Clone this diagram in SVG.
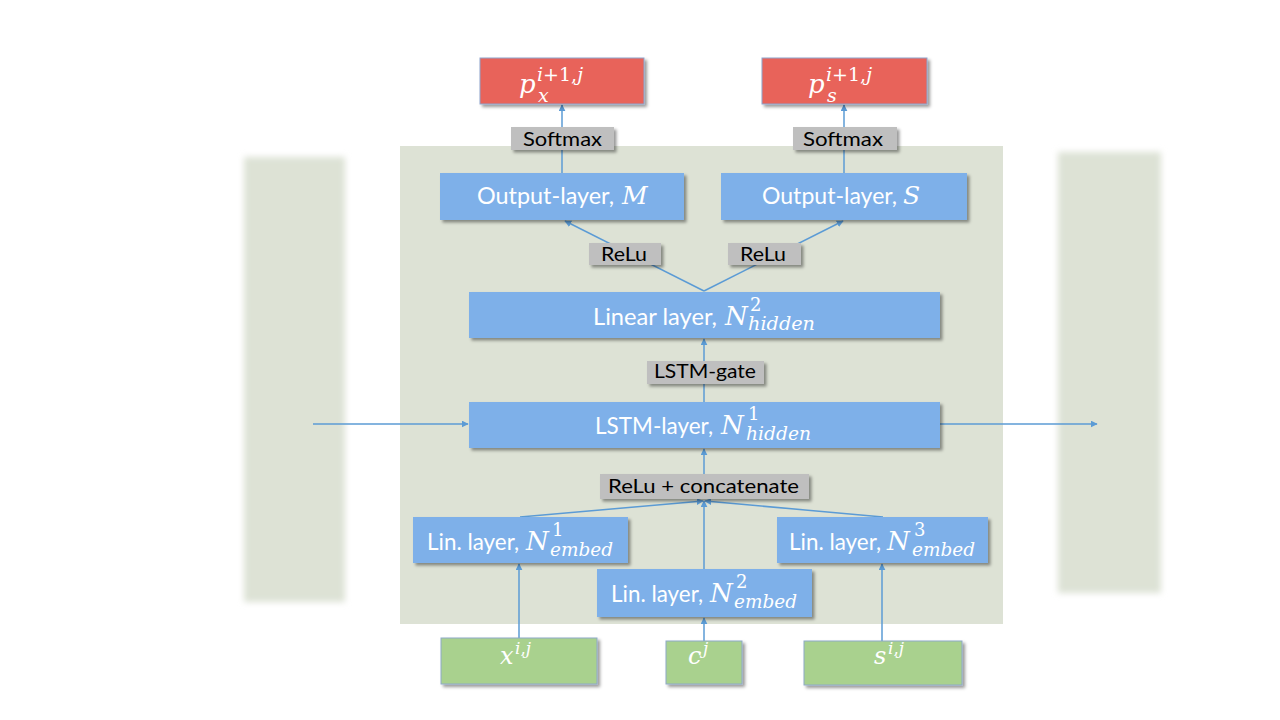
<svg xmlns="http://www.w3.org/2000/svg" width="1280" height="720" viewBox="0 0 1280 720">
<defs>
<style>
.panel{fill:#DDE2D5}
.blue{fill:#7EB0E9}
.red{fill:#E8645A;stroke:#8EA3CB;stroke-width:1}
.green{fill:#A9D18E;stroke:#8EA9C8;stroke-width:1}
.gray{fill:#BFBFBF}
.lbl{font-family:Lato,"Open Sans","Liberation Sans",sans-serif;font-size:24px;fill:#FFFFFF}
.glbl{font-family:Lato,"Open Sans","Liberation Sans",sans-serif;font-size:20px;fill:#000000}
.m{font-family:"DejaVu Serif","Liberation Serif",serif;font-style:italic;fill:#FFFFFF}
.up{font-style:normal}
.conn{stroke:#5B9BD5;stroke-width:1.5;fill:none;marker-end:url(#arr)}
.sh{filter:url(#shadow)}
</style>
<marker id="arr" viewBox="0 0 10 10" refX="9" refY="5" markerWidth="7" markerHeight="7" markerUnits="userSpaceOnUse" orient="auto">
<path d="M0,0 L10,5 L0,10 z" fill="#5B9BD5"/>
</marker>
<filter id="shadow" x="-10%" y="-20%" width="130%" height="160%">
<feDropShadow dx="2.5" dy="2.5" stdDeviation="1.5" flood-color="#000" flood-opacity="0.4"/>
</filter>
<filter id="blur" x="-20%" y="-10%" width="140%" height="120%">
<feGaussianBlur stdDeviation="3"/>
</filter>
</defs>
<rect width="1280" height="720" fill="#FFFFFF"/>
<g id="side-panels">
<rect x="244" y="157" width="101" height="445" class="panel" filter="url(#blur)"/>
<rect x="1058" y="152" width="103" height="441" class="panel" filter="url(#blur)"/>
</g>
<g id="main-panel">
<rect x="400" y="146" width="603" height="478" class="panel"/>
</g>
<g id="connectors">
<line x1="562" y1="173" x2="562" y2="105" class="conn"/>
<line x1="844" y1="173" x2="844" y2="105" class="conn"/>
<line x1="704" y1="291" x2="565" y2="221" class="conn"/>
<line x1="704" y1="291" x2="843" y2="221" class="conn"/>
<line x1="704" y1="402" x2="704" y2="339" class="conn"/>
<line x1="704" y1="474" x2="704" y2="449" class="conn"/>
<line x1="520" y1="517" x2="703" y2="501" class="conn"/>
<line x1="704" y1="569" x2="704" y2="501" class="conn"/>
<line x1="883" y1="517" x2="705" y2="501" class="conn"/>
<line x1="519" y1="638" x2="519" y2="564" class="conn"/>
<line x1="704" y1="641" x2="704" y2="618" class="conn"/>
<line x1="882" y1="641" x2="882" y2="564" class="conn"/>
<line x1="313" y1="424" x2="468" y2="424" class="conn"/>
<line x1="940" y1="424" x2="1097" y2="424" class="conn"/>
</g>
<g id="out-px">
<rect x="480" y="58" width="164" height="46" class="red sh"/>
<text x="519" y="93" class="m" font-size="26">p</text>
<text x="537" y="81" class="m" font-size="19">i<tspan class="up">+1,</tspan>j</text>
<text x="538" y="102" class="m" font-size="19">x</text>
</g>
<g id="out-ps">
<rect x="762" y="58" width="165" height="46" class="red sh"/>
<text x="808" y="93" class="m" font-size="26">p</text>
<text x="826" y="81" class="m" font-size="19">i<tspan class="up">+1,</tspan>j</text>
<text x="827" y="102" class="m" font-size="19">s</text>
</g>
<g id="softmax-left">
<rect x="511" y="127" width="103" height="23" class="gray sh"/>
<text x="523" y="146" class="glbl" textLength="79" lengthAdjust="spacingAndGlyphs">Softmax</text>
</g>
<g id="softmax-right">
<rect x="793" y="127" width="104" height="23" class="gray sh"/>
<text x="803" y="146" class="glbl" textLength="80" lengthAdjust="spacingAndGlyphs">Softmax</text>
</g>
<g id="output-M">
<rect x="440" y="173" width="244" height="47" class="blue sh"/>
<text x="477" y="204" class="lbl" textLength="137" lengthAdjust="spacingAndGlyphs">Output-layer,</text>
<text x="622" y="204" class="m" font-size="25">M</text>
</g>
<g id="output-S">
<rect x="721" y="173" width="246" height="47" class="blue sh"/>
<text x="762" y="204" class="lbl" textLength="135" lengthAdjust="spacingAndGlyphs">Output-layer,</text>
<text x="903" y="204" class="m" font-size="25">S</text>
</g>
<g id="relu-left">
<rect x="589" y="243" width="72" height="22" class="gray sh"/>
<text x="601" y="261" class="glbl" textLength="46" lengthAdjust="spacingAndGlyphs">ReLu</text>
</g>
<g id="relu-right">
<rect x="728" y="243" width="73" height="22" class="gray sh"/>
<text x="740" y="261" class="glbl" textLength="46" lengthAdjust="spacingAndGlyphs">ReLu</text>
</g>
<g id="linear-layer">
<rect x="469" y="292" width="471" height="46" class="blue sh"/>
<text x="593" y="325" class="lbl" textLength="124" lengthAdjust="spacingAndGlyphs">Linear layer,</text>
<text x="725" y="325" class="m" font-size="26">N</text>
<text x="750" y="311" class="m up" font-size="18">2</text>
<text x="748" y="330" class="m" font-size="18" textLength="67" lengthAdjust="spacingAndGlyphs">hidden</text>
</g>
<g id="lstm-gate">
<rect x="647" y="361" width="117" height="23" class="gray sh"/>
<text x="654" y="378" class="glbl" textLength="102" lengthAdjust="spacingAndGlyphs">LSTM-gate</text>
</g>
<g id="lstm-layer">
<rect x="469" y="402" width="471" height="46" class="blue sh"/>
<text x="595" y="434" class="lbl" textLength="118" lengthAdjust="spacingAndGlyphs">LSTM-layer,</text>
<text x="721" y="434" class="m" font-size="26">N</text>
<text x="748" y="420" class="m up" font-size="18">1</text>
<text x="746" y="440" class="m" font-size="18" textLength="65" lengthAdjust="spacingAndGlyphs">hidden</text>
</g>
<g id="relu-concat">
<rect x="600" y="474" width="209" height="25" class="gray sh"/>
<text x="608" y="493" class="glbl" textLength="191" lengthAdjust="spacingAndGlyphs">ReLu + concatenate</text>
</g>
<g id="lin-embed-1">
<rect x="413" y="517" width="215" height="46" class="blue sh"/>
<text x="427" y="550" class="lbl" textLength="92" lengthAdjust="spacingAndGlyphs">Lin. layer,</text>
<text x="526" y="550" class="m" font-size="26">N</text>
<text x="552" y="536" class="m up" font-size="18">1</text>
<text x="550" y="556" class="m" font-size="18" textLength="63" lengthAdjust="spacingAndGlyphs">embed</text>
</g>
<g id="lin-embed-2">
<rect x="597" y="569" width="215" height="48" class="blue sh"/>
<text x="611" y="602" class="lbl" textLength="92" lengthAdjust="spacingAndGlyphs">Lin. layer,</text>
<text x="710" y="602" class="m" font-size="26">N</text>
<text x="736" y="588" class="m up" font-size="18">2</text>
<text x="734" y="608" class="m" font-size="18" textLength="63" lengthAdjust="spacingAndGlyphs">embed</text>
</g>
<g id="lin-embed-3">
<rect x="777" y="517" width="211" height="46" class="blue sh"/>
<text x="789" y="550" class="lbl" textLength="92" lengthAdjust="spacingAndGlyphs">Lin. layer,</text>
<text x="887" y="550" class="m" font-size="26">N</text>
<text x="914" y="536" class="m up" font-size="18">3</text>
<text x="912" y="556" class="m" font-size="18" textLength="63" lengthAdjust="spacingAndGlyphs">embed</text>
</g>
<g id="in-x">
<rect x="441" y="638" width="156" height="46" class="green sh"/>
<text x="500" y="664" class="m" font-size="24">x</text>
<text x="515" y="654" class="m" font-size="17">i<tspan class="up">,</tspan>j</text>
</g>
<g id="in-c">
<rect x="666" y="641" width="76" height="43" class="green sh"/>
<text x="688" y="664" class="m" font-size="24">c</text>
<text x="703" y="654" class="m" font-size="17">j</text>
</g>
<g id="in-s">
<rect x="804" y="641" width="158" height="44" class="green sh"/>
<text x="874" y="664" class="m" font-size="24">s</text>
<text x="888" y="654" class="m" font-size="17">i<tspan class="up">,</tspan>j</text>
</g>
</svg>
